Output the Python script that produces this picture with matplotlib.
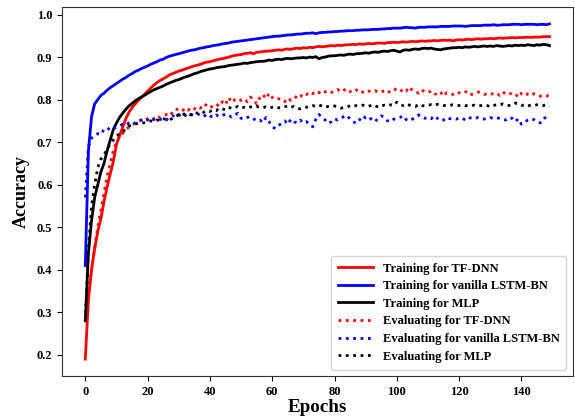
"""Training / evaluating accuracy curves for TF-DNN, vanilla LSTM-BN and MLP."""

import matplotlib

matplotlib.use("Agg")
import matplotlib.pyplot as plt

plt.rcParams["font.family"] = ["Liberation Serif", "DejaVu Serif"]
plt.rcParams["font.weight"] = "bold"

epochs = list(range(150))

tfdnn_train = [
    0.19, 0.33, 0.40, 0.45, 0.49, 0.52, 0.56, 0.595, 0.625, 0.655,
    0.695, 0.715, 0.735, 0.755, 0.770, 0.781, 0.790, 0.798, 0.805, 0.812,
    0.820, 0.827, 0.834, 0.840, 0.845, 0.849, 0.853, 0.858, 0.861, 0.864,
    0.867, 0.869, 0.872, 0.874, 0.877, 0.879, 0.881, 0.883, 0.886, 0.888,
    0.889, 0.891, 0.893, 0.895, 0.896, 0.898, 0.900, 0.902, 0.904, 0.905,
    0.906, 0.908, 0.909, 0.910, 0.908, 0.911, 0.912, 0.913, 0.914, 0.914,
    0.915, 0.916, 0.917, 0.916, 0.918, 0.919, 0.918, 0.920, 0.921, 0.920,
    0.922, 0.921, 0.923, 0.922, 0.924, 0.925, 0.924, 0.925, 0.926, 0.927,
    0.926, 0.928, 0.927, 0.928, 0.929, 0.929, 0.930, 0.929, 0.931, 0.930,
    0.931, 0.932, 0.931, 0.932, 0.933, 0.933, 0.932, 0.934, 0.934, 0.935,
    0.934, 0.935, 0.936, 0.935, 0.936, 0.937, 0.936, 0.937, 0.938, 0.937,
    0.938, 0.938, 0.939, 0.938, 0.939, 0.940, 0.939, 0.940, 0.938, 0.940,
    0.941, 0.940, 0.941, 0.942, 0.941, 0.942, 0.943, 0.942, 0.943, 0.943,
    0.944, 0.943, 0.944, 0.945, 0.944, 0.945, 0.945, 0.946, 0.945, 0.946,
    0.946, 0.946, 0.947, 0.946, 0.947, 0.947, 0.947, 0.948, 0.948, 0.948,
]

lstm_train = [
    0.41, 0.68, 0.76, 0.79, 0.80, 0.81, 0.815, 0.822, 0.828, 0.833,
    0.838, 0.843, 0.848, 0.852, 0.857, 0.861, 0.866, 0.869, 0.873, 0.876,
    0.879, 0.883, 0.886, 0.889, 0.893, 0.895, 0.899, 0.902, 0.904, 0.906,
    0.908, 0.910, 0.912, 0.914, 0.916, 0.917, 0.919, 0.921, 0.922, 0.924,
    0.925, 0.927, 0.928, 0.929, 0.931, 0.932, 0.933, 0.935, 0.936, 0.937,
    0.938, 0.939, 0.940, 0.941, 0.942, 0.943, 0.944, 0.945, 0.946, 0.947,
    0.948, 0.949, 0.949, 0.950, 0.951, 0.952, 0.952, 0.953, 0.954, 0.954,
    0.955, 0.956, 0.956, 0.957, 0.955, 0.957, 0.958, 0.958, 0.959, 0.959,
    0.960, 0.960, 0.961, 0.961, 0.962, 0.962, 0.962, 0.963, 0.963, 0.964,
    0.964, 0.964, 0.965, 0.965, 0.965, 0.966, 0.966, 0.967, 0.967, 0.968,
    0.968, 0.968, 0.969, 0.970, 0.969, 0.969, 0.968, 0.970, 0.970, 0.970,
    0.971, 0.971, 0.971, 0.971, 0.972, 0.972, 0.972, 0.972, 0.973, 0.973,
    0.973, 0.973, 0.972, 0.973, 0.974, 0.974, 0.974, 0.974, 0.975, 0.975,
    0.975, 0.976, 0.975, 0.975, 0.976, 0.976, 0.976, 0.977, 0.977, 0.977,
    0.976, 0.977, 0.977, 0.977, 0.977, 0.976, 0.977, 0.977, 0.976, 0.978,
]

mlp_train = [
    0.28, 0.44, 0.515, 0.57, 0.60, 0.63, 0.65, 0.68, 0.705, 0.73,
    0.745, 0.758, 0.768, 0.777, 0.785, 0.791, 0.797, 0.802, 0.806, 0.810,
    0.815, 0.819, 0.823, 0.826, 0.829, 0.832, 0.836, 0.839, 0.842, 0.845,
    0.847, 0.850, 0.853, 0.855, 0.858, 0.861, 0.863, 0.866, 0.868, 0.870,
    0.872, 0.873, 0.875, 0.876, 0.877, 0.878, 0.880, 0.881, 0.882, 0.883,
    0.884, 0.886, 0.885, 0.887, 0.888, 0.889, 0.890, 0.890, 0.891, 0.893,
    0.892, 0.894, 0.895, 0.894, 0.896, 0.897, 0.896, 0.897, 0.898, 0.898,
    0.899, 0.898, 0.900, 0.899, 0.901, 0.896, 0.899, 0.900, 0.902, 0.903,
    0.903, 0.904, 0.905, 0.904, 0.906, 0.907, 0.906, 0.908, 0.908, 0.909,
    0.910, 0.909, 0.911, 0.912, 0.911, 0.913, 0.914, 0.913, 0.915, 0.916,
    0.914, 0.912, 0.916, 0.917, 0.916, 0.918, 0.919, 0.918, 0.920, 0.921,
    0.920, 0.921, 0.919, 0.918, 0.917, 0.919, 0.920, 0.921, 0.922, 0.922,
    0.923, 0.922, 0.924, 0.923, 0.924, 0.925, 0.924, 0.925, 0.926, 0.925,
    0.926, 0.925, 0.927, 0.926, 0.925, 0.926, 0.927, 0.926, 0.928, 0.927,
    0.928, 0.927, 0.929, 0.928, 0.927, 0.929, 0.928, 0.930, 0.929, 0.927,
]

tfdnn_eval = [
    0.28, 0.34, 0.40, 0.45, 0.50, 0.54, 0.58, 0.62, 0.65, 0.68,
    0.70, 0.712, 0.72, 0.73, 0.735, 0.74, 0.745, 0.748, 0.752, 0.750,
    0.755, 0.757, 0.752, 0.760, 0.758, 0.762, 0.765, 0.761, 0.770, 0.778,
    0.776, 0.772, 0.780, 0.775, 0.782, 0.778, 0.784, 0.780, 0.790, 0.786,
    0.780, 0.786, 0.790, 0.784, 0.795, 0.788, 0.805, 0.793, 0.800, 0.803,
    0.798, 0.802, 0.795, 0.806, 0.800, 0.790, 0.804, 0.812, 0.802, 0.815,
    0.805, 0.800, 0.802, 0.801, 0.795, 0.804, 0.798, 0.800, 0.810, 0.806,
    0.815, 0.812, 0.818, 0.814, 0.820, 0.816, 0.822, 0.818, 0.821, 0.817,
    0.820, 0.824, 0.818, 0.822, 0.826, 0.819, 0.817, 0.823, 0.816, 0.818,
    0.815, 0.820, 0.818, 0.821, 0.817, 0.819, 0.820, 0.815, 0.821, 0.826,
    0.822, 0.818, 0.825, 0.820, 0.830, 0.821, 0.819, 0.815, 0.823, 0.818,
    0.816, 0.821, 0.814, 0.812, 0.818, 0.808, 0.816, 0.815, 0.812, 0.818,
    0.816, 0.814, 0.818, 0.820, 0.812, 0.815, 0.818, 0.816, 0.812, 0.814,
    0.816, 0.812, 0.815, 0.810, 0.818, 0.813, 0.816, 0.812, 0.814, 0.805,
    0.815, 0.818, 0.812, 0.809, 0.814, 0.810, 0.808, 0.810, 0.808, 0.812,
]

lstm_eval = [
    0.57, 0.69, 0.71, 0.715, 0.72, 0.718, 0.73, 0.734, 0.728, 0.732,
    0.735, 0.738, 0.742, 0.740, 0.745, 0.748, 0.744, 0.750, 0.752, 0.756,
    0.752, 0.749, 0.755, 0.757, 0.753, 0.756, 0.752, 0.758, 0.762, 0.760,
    0.765, 0.758, 0.762, 0.768, 0.765, 0.762, 0.766, 0.764, 0.760, 0.766,
    0.762, 0.758, 0.764, 0.760, 0.763, 0.766, 0.763, 0.759, 0.764, 0.768,
    0.756, 0.754, 0.758, 0.760, 0.755, 0.750, 0.752, 0.746, 0.758, 0.748,
    0.736, 0.732, 0.738, 0.745, 0.750, 0.742, 0.754, 0.748, 0.745, 0.752,
    0.745, 0.748, 0.742, 0.736, 0.754, 0.765, 0.758, 0.752, 0.744, 0.748,
    0.755, 0.752, 0.756, 0.760, 0.763, 0.754, 0.748, 0.744, 0.752, 0.762,
    0.757, 0.760, 0.752, 0.748, 0.756, 0.762, 0.758, 0.750, 0.748, 0.754,
    0.756, 0.758, 0.762, 0.753, 0.750, 0.754, 0.758, 0.764, 0.758, 0.756,
    0.758, 0.755, 0.762, 0.756, 0.750, 0.752, 0.758, 0.755, 0.756, 0.754,
    0.757, 0.756, 0.752, 0.758, 0.756, 0.755, 0.758, 0.757, 0.754, 0.756,
    0.758, 0.755, 0.757, 0.756, 0.754, 0.752, 0.758, 0.756, 0.748, 0.755,
    0.742, 0.746, 0.752, 0.755, 0.753, 0.748, 0.745, 0.756, 0.758, 0.756,
]

mlp_eval = [
    0.28, 0.45, 0.55, 0.60, 0.64, 0.66, 0.67, 0.683, 0.695, 0.705,
    0.714, 0.720, 0.725, 0.730, 0.738, 0.740, 0.742, 0.745, 0.744, 0.746,
    0.748, 0.750, 0.748, 0.752, 0.750, 0.754, 0.755, 0.752, 0.756, 0.760,
    0.765, 0.762, 0.768, 0.766, 0.764, 0.770, 0.768, 0.772, 0.770, 0.774,
    0.772, 0.776, 0.774, 0.780, 0.778, 0.776, 0.782, 0.779, 0.781, 0.784,
    0.780, 0.782, 0.780, 0.783, 0.781, 0.784, 0.782, 0.781, 0.783, 0.780,
    0.782, 0.784, 0.781, 0.780, 0.783, 0.785, 0.782, 0.784, 0.780, 0.778,
    0.779, 0.782, 0.785, 0.786, 0.784, 0.787, 0.785, 0.782, 0.784, 0.786,
    0.785, 0.783, 0.780, 0.781, 0.782, 0.786, 0.784, 0.786, 0.785, 0.787,
    0.786, 0.784, 0.788, 0.786, 0.782, 0.785, 0.787, 0.785, 0.788, 0.786,
    0.794, 0.788, 0.786, 0.790, 0.787, 0.786, 0.784, 0.789, 0.786, 0.785,
    0.787, 0.788, 0.786, 0.789, 0.787, 0.786, 0.787, 0.786, 0.788, 0.787,
    0.786, 0.787, 0.786, 0.785, 0.786, 0.787, 0.785, 0.786, 0.787, 0.786,
    0.783, 0.786, 0.788, 0.787, 0.790, 0.788, 0.786, 0.787, 0.792, 0.789,
    0.786, 0.788, 0.785, 0.787, 0.786, 0.788, 0.787, 0.786, 0.788, 0.784,
]

series = [
    (tfdnn_train, "-", "red", "Training for TF-DNN"),
    (lstm_train, "-", "blue", "Training for vanilla LSTM-BN"),
    (mlp_train, "-", "black", "Training for MLP"),
    (tfdnn_eval, ":", "red", "Evaluating for TF-DNN"),
    (lstm_eval, ":", "blue", "Evaluating for vanilla LSTM-BN"),
    (mlp_eval, ":", "black", "Evaluating for MLP"),
]

fig, ax = plt.subplots(figsize=(5.75, 4.19), dpi=100)
fig.subplots_adjust(left=0.108, right=0.996, top=0.983, bottom=0.103)

for values, style, color, label in series:
    ax.plot(epochs, values, linestyle=style, color=color, linewidth=2.0, label=label)

ax.set_xticks(range(0, 141, 20))
ax.set_yticks([0.2, 0.3, 0.4, 0.5, 0.6, 0.7, 0.8, 0.9, 1.0])
ax.set_yticklabels(["0.2", "0.3", "0.4", "0.5", "0.6", "0.7", "0.8", "0.9", "1.0"])
ax.tick_params(labelsize=9)
for lbl in ax.get_xticklabels() + ax.get_yticklabels():
    lbl.set_fontweight("bold")
ax.set_xlabel("Epochs", fontsize=13.7, fontweight="bold", labelpad=1)
ax.set_ylabel("Accuracy", fontsize=13, fontweight="bold", labelpad=5)
for spine in ax.spines.values():
    spine.set_color("#333333")

ax.legend(loc="lower right", prop={"size": 9, "weight": "bold"}, handlelength=2.8,
          borderpad=0.55, labelspacing=0.45)

fig.savefig("out.png")
